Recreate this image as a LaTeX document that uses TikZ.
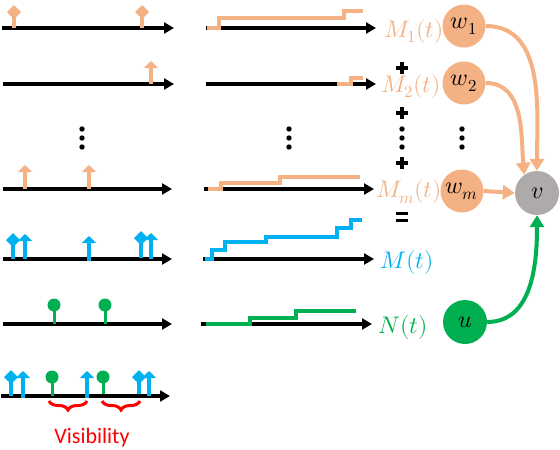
\documentclass[tikz,border=0pt]{standalone}
\usepackage{fontspec}
\usepackage{unicode-math}
\setmathfont{Latin Modern Math}
\newfontfamily\visfont{Carlito}
\usetikzlibrary{arrows.meta,decorations.pathreplacing}
\definecolor{peach}{HTML}{F4B183}
\definecolor{skyb}{HTML}{00B0F0}
\definecolor{grn}{HTML}{00B050}
\definecolor{gry}{HTML}{AEAAAA}
\newcommand\evup[4]{\draw[#1,line width=3.5pt,-{Triangle[length=7pt,width=14pt]}] (#2,#3) -- (#2,#4);}
\newcommand\evdia[4]{\draw[#1,line width=3.5pt] (#2,#3) -- (#2,#4);
  \fill[#1] (#2,#4-7) -- (#2+7,#4) -- (#2,#4+7) -- (#2-7,#4) -- cycle;}
\newcommand\evpop[4]{\draw[#1,line width=3pt] (#2,#3) -- (#2,#4);
  \fill[#1] (#2,#4) circle (6.5);}
\begin{document}
\begin{tikzpicture}[x=1pt,y=-1pt,
  axis/.style={line width=4pt,-{Triangle[length=10pt,width=11pt]}},
  stair/.style={line width=3.5pt},
  lab/.style={font=\fontsize{24}{26}\selectfont,inner sep=0pt},
  wnode/.style={circle,fill=peach,minimum size=43pt,inner sep=0pt,font=\fontsize{24}{26}\selectfont},
  edge/.style={line width=4pt,-{Triangle[length=12pt,width=14pt]}}]
\useasboundingbox (0,0) rectangle (560,450);
% left axes
\draw[axis] (2,28) -- (174,28);
\draw[axis] (3,84) -- (174,84);
\draw[axis] (3,189) -- (172,189);
\draw[axis] (3,259) -- (172,259);
\draw[axis] (3,324) -- (172,324);
\draw[axis] (1,396) -- (170,396);
% left events
\evdia{peach}{14}{28}{12}
\evdia{peach}{142}{28}{12}
\evup{peach}{151}{84}{61}
\evup{peach}{25}{189}{165}
\evup{peach}{89}{189}{165}
\evdia{skyb}{13}{259}{240}
\evup{skyb}{25}{259}{234}
\evup{skyb}{89}{261}{236}
\evdia{skyb}{141}{258}{238}
\evup{skyb}{151}{259}{233}
\evpop{grn}{54}{324}{305}
\evpop{grn}{105}{324}{305}
\evdia{skyb}{11}{396}{377}
\evup{skyb}{23}{398}{371}
\evpop{grn}{52}{396}{377}
\evup{skyb}{87}{398}{371}
\evpop{grn}{103}{394}{377}
\evdia{skyb}{139}{394}{377}
\evup{skyb}{149}{396}{371}
% braces
\draw[red,line width=3pt,decorate,decoration={brace,amplitude=9pt,mirror}] (49,401) -- (87,401);
\draw[red,line width=3pt,decorate,decoration={brace,amplitude=9pt,mirror}] (102,401) -- (140,401);
\node[red,font=\visfont\fontsize{22}{24}\selectfont,inner sep=0pt] (vis) at (92,438) {Visibility};
% middle axes
\draw[axis] (206,28) -- (376,28);
\draw[axis] (206,84) -- (376,84);
\draw[axis] (204,189) -- (374,189);
\draw[axis] (203,259) -- (374,259);
\draw[axis] (201,324) -- (372,324);
% stairs
\draw[stair,peach] (207,28) -- (219,28) -- (219,18) -- (344,18) -- (344,11) -- (363,11);
\draw[stair,peach] (337,84) -- (351,84) -- (351,78) -- (363,78);
\draw[stair,peach] (208,189) -- (221,189) -- (221,183) -- (280,183) -- (280,177) -- (360,177);
\draw[stair,skyb] (205,259) -- (212,259) -- (212,250) -- (225,250) -- (225,242) -- (266,242) -- (266,237) -- (337,237) -- (337,228) -- (351,228) -- (351,220) -- (362,220);
\draw[stair,grn] (206,324) -- (250,324) -- (250,318) -- (296,318) -- (296,311) -- (356,311);
% dots
\foreach \xx in {82,289,402,462}{\foreach \yy in {129,138,147}{\fill (\xx,\yy) circle (2.7);}}
% plus and equals
\foreach \yy in {68,113,163}{\draw[line width=3.8pt] (396,\yy) -- (408,\yy) (402,\yy-6) -- (402,\yy+6);}
\draw[line width=3pt] (396,213.5) -- (408,213.5) (396,220.5) -- (408,220.5);
% labels
\node[lab,peach] (m1) at (414,31) {$M_1(t)$};
\node[lab,peach] (m2) at (411,86) {$M_2(t)$};
\node[lab,peach] (mm) at (409,192) {$M_m(t)$};
\node[lab,skyb] (mt) at (407,262) {$M(t)$};
\node[lab,grn] (nt) at (403,327) {$N(t)$};
% nodes
\node[wnode] (w1) at (464,26) {$w_1$};
\node[wnode] (w2) at (464,83) {$w_2$};
\node[wnode] (wm) at (462,191) {$w_m$};
\node[circle,fill=gry,minimum size=44pt,inner sep=0pt,font=\fontsize{24}{26}\selectfont] (v) at (537,193) {$v$};
\node[circle,fill=grn,minimum size=44pt,inner sep=0pt,font=\fontsize{24}{26}\selectfont] (u) at (465,322) {$u$};
% edges
\draw[edge,peach] (w1.east) to[out=0,in=90] (v.north);
\draw[edge,peach] (w2.east) to[out=0,in=95] (v.125);
\draw[edge,peach] (wm.east) -- (v.west);
\draw[edge,grn] (u.east) to[out=0,in=-90] (v.south);
\end{tikzpicture}
\end{document}
